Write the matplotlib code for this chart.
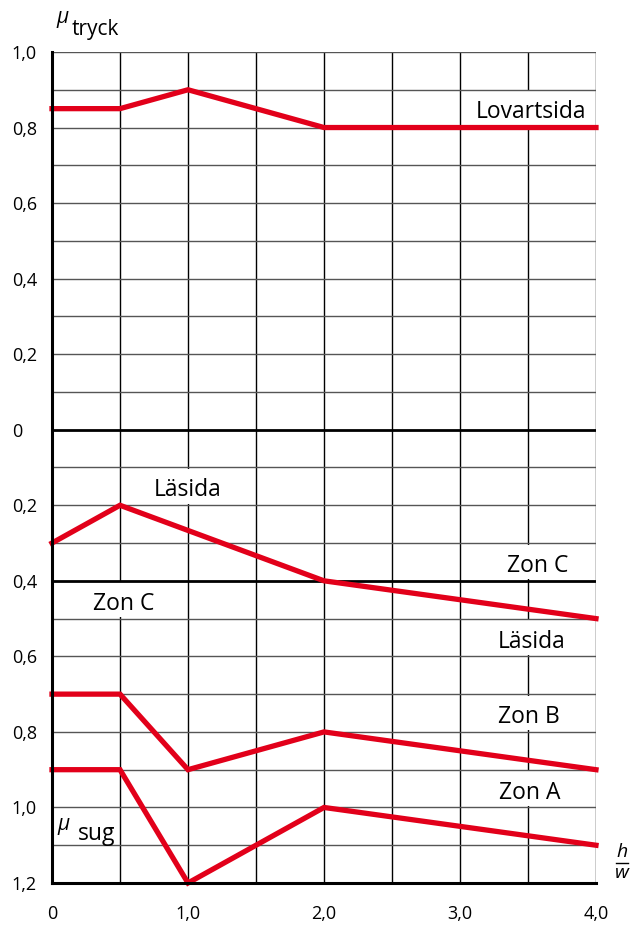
import matplotlib.pyplot as plt
from matplotlib.patches import Rectangle

# h/w values and mu values (negative = sug)
x_lovart = [0, 0.5, 1.0, 2.0, 4.0]
y_lovart = [0.85, 0.85, 0.9, 0.8, 0.8]

x_lasida = [0, 0.5, 2.0, 4.0]
y_lasida = [-0.3, -0.2, -0.4, -0.5]

x_zonb = [0, 0.5, 1.0, 2.0, 4.0]
y_zonb = [-0.7, -0.7, -0.9, -0.8, -0.9]

x_zona = [0, 0.5, 1.0, 2.0, 4.0]
y_zona = [-0.9, -0.9, -1.2, -1.0, -1.1]

xticks = [0, 1, 2, 3, 4]
xtick_labels = ['0', '1,0', '2,0', '3,0', '4,0']
yticks = [1.0, 0.8, 0.6, 0.4, 0.2, 0, -0.2, -0.4, -0.6, -0.8, -1.0, -1.2]
ytick_labels = ['1,0', '0,8', '0,6', '0,4', '0,2', '0', '0,2', '0,4', '0,6', '0,8', '1,0', '1,2']

# labels: text, x, y, hidden grid cell (x, y_low)
labels = [
    ('Lovartsida', 3.52, 0.84, 3.5, 0.8),
    ('Läsida', 1.0, -0.16, 1.0, -0.2),
    ('Zon C', 3.57, -0.36, 3.5, -0.4),
    ('Zon C', 0.53, -0.461, 0.5, -0.5),
    ('Läsida', 3.53, -0.561, 3.5, -0.6),
    ('Zon B', 3.51, -0.76, 3.5, -0.8),
    ('Zon A', 3.51, -0.963, 3.5, -1.0),
]

red = '#e2001a'
plt.rcParams['font.family'] = ['Open Sans', 'DejaVu Sans']

fig = plt.figure(figsize=(6.31, 9.25), dpi=100)
ax = fig.add_axes([0.0824, 0.0454, 0.8621, 0.8984])
ax.set_xlim(0, 4)
ax.set_ylim(-1.2, 1.0)

# grid
for i in range(9):
    ax.axvline(i * 0.5, color='black', lw=1, zorder=1)
for i in range(23):
    y = round(1.0 - i * 0.1, 1)
    if y in (0, -0.4):
        ax.axhline(y, color='black', lw=2, zorder=3)
    else:
        ax.axhline(y, color='#555555', lw=1, zorder=3)

for t, tx, ty, cx, cy in labels:
    ax.add_patch(Rectangle((cx - 0.05, cy + 0.004), 0.1, 0.092, facecolor='white',
                           edgecolor='none', zorder=2))
    ax.text(tx, ty, t, ha='center', va='center', fontsize=16.5, zorder=5)

ax.plot(x_lovart, y_lovart, color=red, lw=3.8, zorder=4, solid_joinstyle='miter', clip_on=False)
ax.plot(x_lasida, y_lasida, color=red, lw=3.8, zorder=4, solid_joinstyle='miter', clip_on=False)
ax.plot(x_zonb, y_zonb, color=red, lw=3.8, zorder=4, solid_joinstyle='miter', clip_on=False)
ax.plot(x_zona, y_zona, color=red, lw=3.8, zorder=4, solid_joinstyle='miter', clip_on=False)

for s in ['top', 'right']:
    ax.spines[s].set_visible(False)
ax.spines['left'].set_linewidth(2.2)
ax.spines['bottom'].set_linewidth(2.2)
ax.spines['left'].set_zorder(6)
ax.spines['bottom'].set_zorder(6)

ax.set_xticks(xticks)
ax.set_xticklabels(xtick_labels, fontsize=13)
ax.set_yticks(yticks)
ax.set_yticklabels(ytick_labels, fontsize=13, ha='left')
ax.tick_params(length=0)
ax.tick_params(axis='x', pad=16)
ax.tick_params(axis='y', pad=29)

# axis titles
fig.text(56 / 631, 1 - 18 / 925, 'μ', fontsize=15, ha='left', va='center', style='italic')
fig.text(72 / 631, 1 - 29 / 925, 'tryck', fontsize=15, ha='left', va='center')
ax.text(0.04, -1.045, 'μ', fontsize=15, ha='left', va='center', style='italic', zorder=5)
ax.text(0.19, -1.07, 'sug', fontsize=16.5, ha='left', va='center', zorder=5)
fig.text(622 / 631, 1 - 852 / 925, 'h', fontsize=14, ha='center', va='center', style='italic')
fig.add_artist(plt.Line2D([616 / 631, 628 / 631], [1 - 863 / 925] * 2, color='black', lw=1))
fig.text(622 / 631, 1 - 873 / 925, 'w', fontsize=14, ha='center', va='center', style='italic')

fig.savefig('out.png', dpi=100)
